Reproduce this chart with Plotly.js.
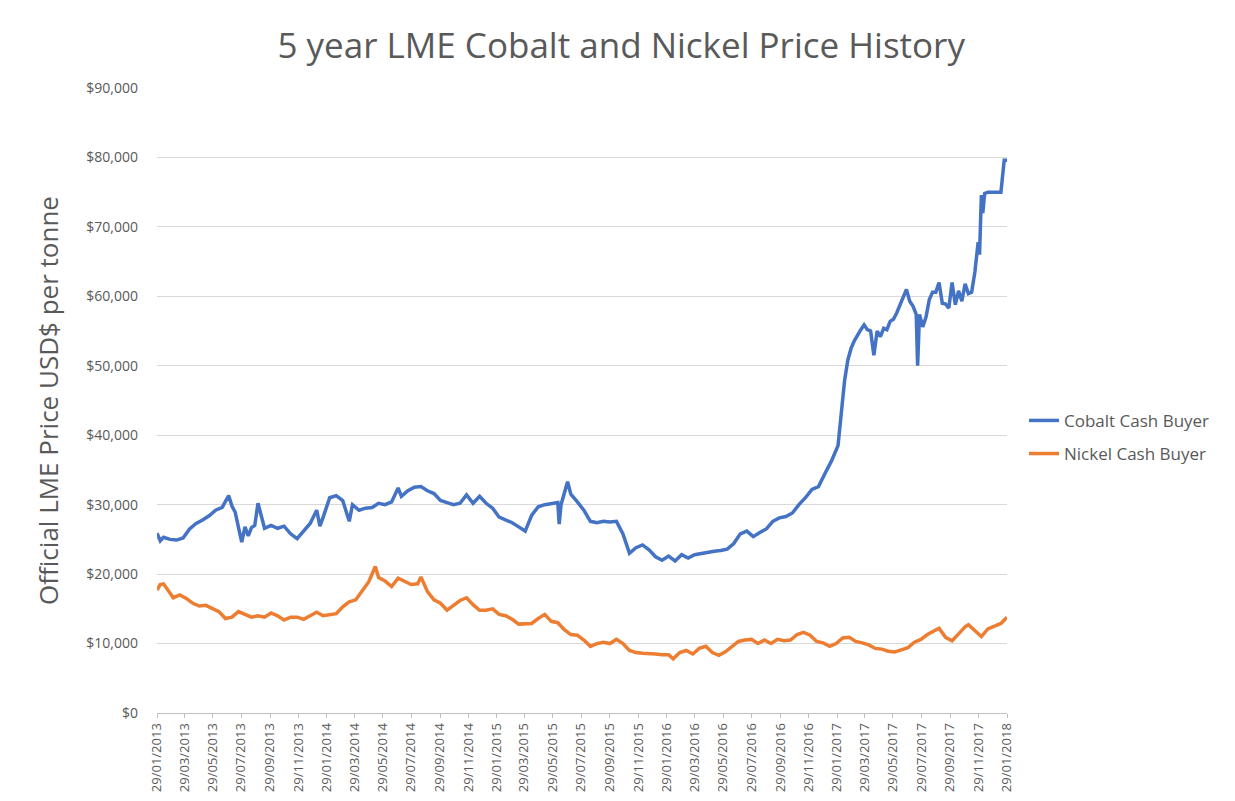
<!DOCTYPE html>
<html>
<head>
<meta charset="utf-8">
<script src="https://cdn.plot.ly/plotly-3.0.1.min.js"></script>
<style>html,body{margin:0;padding:0;background:#fff;}#chart{width:1235px;height:801px;}</style>
</head>
<body>
<div id="chart"></div>
<script>
const cobaltDates = ["2013-01-29","2013-02-05","2013-02-12","2013-02-26","2013-03-12","2013-03-26","2013-04-09","2013-04-23","2013-05-07","2013-05-21","2013-06-04","2013-06-18","2013-07-02","2013-07-09","2013-07-16","2013-07-23","2013-07-30","2013-08-06","2013-08-13","2013-08-20","2013-08-27","2013-09-03","2013-09-10","2013-09-17","2013-10-01","2013-10-15","2013-10-29","2013-11-12","2013-11-26","2013-12-10","2013-12-24","2014-01-07","2014-01-14","2014-01-21","2014-02-04","2014-02-18","2014-03-04","2014-03-18","2014-03-25","2014-04-08","2014-04-22","2014-05-06","2014-05-20","2014-06-03","2014-06-17","2014-07-01","2014-07-08","2014-07-22","2014-08-05","2014-08-19","2014-09-02","2014-09-16","2014-09-30","2014-10-14","2014-10-28","2014-11-11","2014-11-25","2014-12-09","2014-12-23","2015-01-06","2015-01-20","2015-02-03","2015-02-17","2015-03-03","2015-03-17","2015-03-31","2015-04-14","2015-04-28","2015-05-12","2015-05-26","2015-06-09","2015-06-12","2015-06-16","2015-06-30","2015-07-07","2015-07-21","2015-08-04","2015-08-18","2015-09-01","2015-09-15","2015-09-29","2015-10-13","2015-10-27","2015-11-10","2015-11-24","2015-12-08","2015-12-22","2016-01-05","2016-01-19","2016-02-02","2016-02-16","2016-03-01","2016-03-15","2016-03-29","2016-04-12","2016-04-26","2016-05-10","2016-05-24","2016-06-07","2016-06-21","2016-07-05","2016-07-19","2016-08-02","2016-08-16","2016-08-30","2016-09-13","2016-09-27","2016-10-11","2016-10-25","2016-11-08","2016-11-22","2016-12-06","2016-12-20","2017-01-03","2017-01-17","2017-01-31","2017-02-07","2017-02-14","2017-02-21","2017-02-28","2017-03-07","2017-03-14","2017-03-21","2017-03-28","2017-04-04","2017-04-11","2017-04-18","2017-04-25","2017-05-02","2017-05-09","2017-05-16","2017-05-23","2017-05-30","2017-06-06","2017-06-13","2017-06-20","2017-06-27","2017-07-04","2017-07-11","2017-07-18","2017-07-21","2017-07-25","2017-08-01","2017-08-08","2017-08-15","2017-08-22","2017-08-29","2017-09-05","2017-09-12","2017-09-19","2017-09-26","2017-10-03","2017-10-10","2017-10-17","2017-10-24","2017-10-31","2017-11-07","2017-11-14","2017-11-21","2017-11-28","2017-12-01","2017-12-05","2017-12-08","2017-12-12","2017-12-19","2017-12-26","2018-01-02","2018-01-09","2018-01-16","2018-01-19","2018-01-23","2018-01-29"];
const cobaltPrice = [25900,24800,25300,25000,24900,25200,26500,27300,27800,28400,29200,29600,31300,29800,28900,27000,24600,26800,25500,26700,27000,30200,28300,26600,27000,26600,26900,25800,25100,26200,27300,29200,26900,28200,31000,31300,30600,27600,30000,29200,29500,29600,30200,30000,30400,32400,31200,32000,32500,32600,32000,31600,30600,30300,30000,30200,31400,30200,31200,30200,29500,28200,27800,27400,26800,26200,28500,29700,30000,30200,30300,27200,30000,33300,31500,30400,29200,27600,27400,27600,27500,27600,25800,23000,23800,24200,23500,22500,22000,22600,21900,22800,22300,22800,23000,23200,23300,23400,23600,24400,25800,26200,25400,26000,26500,27600,28100,28300,28800,30000,31000,32200,32600,34500,36300,38500,43500,47800,50800,52500,53600,54500,55200,55900,55200,55000,51500,55000,54200,55400,55200,56400,56700,57600,58700,59600,61000,59300,58600,57400,50000,57400,55600,57000,59500,60600,60600,62000,59000,58900,58300,62000,58800,60800,59300,61800,60400,60600,63500,67800,66000,74600,72000,74800,75000,75000,75000,75000,75000,77000,79600,79600];

const nickelDates = ["2013-01-29","2013-02-05","2013-02-12","2013-02-19","2013-03-05","2013-03-19","2013-04-02","2013-04-16","2013-04-30","2013-05-14","2013-05-28","2013-06-11","2013-06-25","2013-07-09","2013-07-23","2013-08-06","2013-08-20","2013-09-03","2013-09-17","2013-10-01","2013-10-15","2013-10-29","2013-11-12","2013-11-26","2013-12-10","2013-12-24","2014-01-07","2014-01-21","2014-02-04","2014-02-18","2014-03-04","2014-03-18","2014-04-01","2014-04-15","2014-04-29","2014-05-13","2014-05-20","2014-06-03","2014-06-17","2014-07-01","2014-07-15","2014-07-29","2014-08-12","2014-08-19","2014-09-02","2014-09-16","2014-09-30","2014-10-14","2014-10-28","2014-11-11","2014-11-25","2014-12-09","2014-12-23","2015-01-06","2015-01-20","2015-02-03","2015-02-17","2015-03-03","2015-03-17","2015-03-31","2015-04-14","2015-04-28","2015-05-12","2015-05-26","2015-06-09","2015-06-23","2015-07-07","2015-07-21","2015-08-04","2015-08-18","2015-09-01","2015-09-15","2015-09-29","2015-10-13","2015-10-27","2015-11-10","2015-11-24","2015-12-08","2015-12-22","2016-01-05","2016-01-19","2016-02-02","2016-02-12","2016-02-26","2016-03-11","2016-03-25","2016-04-08","2016-04-22","2016-05-06","2016-05-20","2016-06-03","2016-06-17","2016-07-01","2016-07-15","2016-07-29","2016-08-12","2016-08-26","2016-09-09","2016-09-23","2016-10-07","2016-10-21","2016-11-04","2016-11-18","2016-12-02","2016-12-16","2016-12-30","2017-01-13","2017-01-27","2017-02-10","2017-02-24","2017-03-10","2017-03-24","2017-04-07","2017-04-21","2017-05-05","2017-05-19","2017-06-02","2017-06-16","2017-06-30","2017-07-14","2017-07-28","2017-08-11","2017-08-25","2017-09-05","2017-09-19","2017-10-03","2017-10-17","2017-10-31","2017-11-07","2017-11-21","2017-12-05","2017-12-19","2018-01-02","2018-01-16","2018-01-29"];
const nickelPrice = [17700,18500,18600,18000,16600,17000,16500,15800,15400,15500,15100,14600,13600,13800,14600,14200,13800,14000,13800,14400,14000,13400,13800,13800,13500,14000,14500,14000,14100,14300,15300,16000,16300,17700,18900,21100,19500,19000,18200,19400,18900,18500,18600,19600,17500,16300,15800,14800,15500,16200,16600,15600,14800,14800,15000,14200,14000,13500,12800,12800,12900,13600,14200,13200,13000,12000,11300,11200,10500,9600,10000,10200,10000,10600,10000,9000,8700,8600,8600,8500,8400,8400,7800,8700,9000,8500,9300,9600,8700,8300,8800,9500,10300,10500,10600,10000,10500,10000,10600,10400,10500,11300,11600,11200,10300,10100,9600,10000,10800,10900,10300,10100,9800,9300,9200,8900,8800,9100,9400,10200,10600,11300,11800,12200,10900,10400,11400,12400,12700,11800,11000,12100,12500,12900,13800];

const tickDates = ["2013-01-29","2013-03-29","2013-05-29","2013-07-29","2013-09-29","2013-11-29","2014-01-29","2014-03-29","2014-05-29","2014-07-29","2014-09-29","2014-11-29","2015-01-29","2015-03-29","2015-05-29","2015-07-29","2015-09-29","2015-11-29","2016-01-29","2016-03-29","2016-05-29","2016-07-29","2016-09-29","2016-11-29","2017-01-29","2017-03-29","2017-05-29","2017-07-29","2017-09-29","2017-11-29","2018-01-29"];
const tickLabels = tickDates.map(d => { const p = d.split("-"); return p[2] + "/" + p[1] + "/" + p[0]; });

const seriesNames = ["Cobalt Cash Buyer", "Nickel Cash Buyer"];
const yTickVals = [0,10000,20000,30000,40000,50000,60000,70000,80000,90000];
const yTickText = ["$0","$10,000","$20,000","$30,000","$40,000","$50,000","$60,000","$70,000","$80,000","$90,000"];

const grey = "#595959";
const traces = [
  {x: cobaltDates, y: cobaltPrice, name: seriesNames[0], legendgroup: "a", type: "scatter", mode: "lines",
   line: {color: "#4472c4", width: 3.5}},
  {x: nickelDates, y: nickelPrice, name: seriesNames[1], legendgroup: "b", type: "scatter", mode: "lines",
   line: {color: "#ed7d31", width: 3.5}}
];

const layout = {
  width: 1235, height: 801,
  paper_bgcolor: "#fff", plot_bgcolor: "#fff",
  margin: {l: 157, r: 228, t: 88, b: 88},
  font: {family: "Open Sans, sans-serif", color: grey},
  title: {text: "5 year LME Cobalt and Nickel Price History", x: 0.503, xref: "container", xanchor: "center",
          y: 0.943, yanchor: "middle",
          font: {size: 35, color: grey, family: "Open Sans, sans-serif"}},
  xaxis: {
    type: "date", range: ["2013-01-29", "2018-01-29"],
    tickvals: tickDates, ticktext: tickLabels, tickangle: -90,
    tickfont: {size: 13, color: grey},
    showgrid: false, zeroline: false,
    showline: true, linecolor: "#bfbfbf", linewidth: 1,
    ticks: "outside", ticklen: 4, tickcolor: "#bfbfbf"
  },
  yaxis: {
    range: [0, 90000], tickvals: yTickVals, ticktext: yTickText,
    tickfont: {size: 14, color: grey},
    showgrid: true, gridcolor: "#d9d9d9", gridwidth: 1,
    zeroline: false, showline: false, ticks: "", ticklabelstandoff: 18,
    title: {text: "Official LME Price USD$ per tonne", font: {size: 26, color: grey}, standoff: 20}
  },
  legend: {x: 1.02, xanchor: "left", y: 0.441, yanchor: "middle",
           font: {size: 17, color: grey}, tracegroupgap: 8, itemwidth: 30, bgcolor: "rgba(0,0,0,0)"},
  showlegend: true
};

Plotly.newPlot("chart", traces, layout, {displayModeBar: false, staticPlot: true});
</script>
</body>
</html>
